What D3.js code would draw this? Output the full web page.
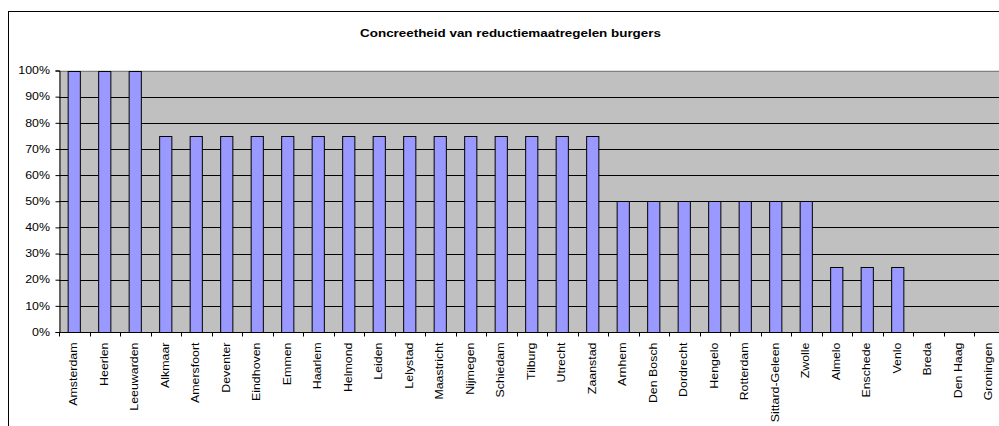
<!DOCTYPE html>
<html>
<head>
<meta charset="utf-8">
<script src="https://cdn.jsdelivr.net/npm/d3@7"></script>
<style>
  body { margin: 0; background: #fff; }
  text { font-family: Arial, "Liberation Sans", sans-serif; }
</style>
</head>
<body>
<div id="canvas"></div>
<script>
// data
const cities = ["Amsterdam", "Heerlen", "Leeuwarden", "Alkmaar", "Amersfoort", "Deventer", "Eindhoven",
    "Emmen", "Haarlem", "Helmond", "Leiden", "Lelystad", "Maastricht", "Nijmegen", "Schiedam", "Tilburg",
    "Utrecht", "Zaanstad", "Arnhem", "Den Bosch", "Dordrecht", "Hengelo", "Rotterdam", "Sittard-Geleen",
    "Zwolle", "Almelo", "Enschede", "Venlo", "Breda", "Den Haag", "Groningen"];
const scores = [1, 1, 1, 0.75, 0.75, 0.75, 0.75, 0.75, 0.75, 0.75, 0.75, 0.75, 0.75, 0.75, 0.75, 0.75,
    0.75, 0.75, 0.5, 0.5, 0.5, 0.5, 0.5, 0.5, 0.5, 0.25, 0.25, 0.25, 0, 0, 0];
const yTicks = [0, 0.1, 0.2, 0.3, 0.4, 0.5, 0.6, 0.7, 0.8, 0.9, 1];
const chartTitle = "Concreetheid van reductiemaatregelen burgers";

// svg canvas
const width = 999, height = 426;
const plot = {left: 59, top: 70.5, bottom: 332, right: 59 + 31 * 30.5};
const stretch = 1.24; // text in the original is rendered wide

const svg = d3.select("#canvas")
    .append("svg")
    .attr("width", width)
    .attr("height", height);

// chart border (cut off on right and bottom)
svg.append("rect")
    .attr("x", 8.5)
    .attr("y", 11.5)
    .attr("width", 1200)
    .attr("height", 600)
    .attr("fill", "white")
    .attr("stroke", "black")
    .attr("stroke-width", 1);

svg.append("text")
    .attr("transform", "translate(510.5,37) scale(1.22,1)")
    .attr("text-anchor", "middle")
    .attr("font-size", "11px")
    .attr("font-weight", "bold")
    .text(chartTitle);

// scales
const x = d3.scaleBand()
    .domain(cities)
    .range([plot.left, plot.right]);

const y = d3.scaleLinear()
    .domain([0, 1])
    .range([plot.bottom, plot.top]);

// plot area
svg.append("rect")
    .attr("x", plot.left)
    .attr("y", plot.top)
    .attr("width", plot.right - plot.left)
    .attr("height", plot.bottom - plot.top)
    .attr("fill", "#c0c0c0");

// gridlines
svg.append("g")
    .selectAll("line")
    .data(yTicks.filter(d => d > 0))
    .join("line")
    .attr("x1", plot.left)
    .attr("x2", plot.right)
    .attr("y1", d => Math.round(y(d)) + 0.5)
    .attr("y2", d => Math.round(y(d)) + 0.5)
    .attr("stroke", d => d === 1 ? "#808080" : "black")
    .attr("stroke-width", 1);

// bars
const barW = x.bandwidth() * 0.4;
svg.append("g")
    .selectAll("rect")
    .data(cities.map((c, i) => ({city: c, value: scores[i]})).filter(d => d.value > 0))
    .join("rect")
    .attr("x", d => x(d.city) + (x.bandwidth() - barW) / 2)
    .attr("y", d => Math.round(y(d.value)) + 0.5)
    .attr("width", barW)
    .attr("height", d => Math.round(y(0)) - Math.round(y(d.value)))
    .attr("fill", "#9999ff")
    .attr("stroke", "black")
    .attr("stroke-width", 1);

// y-axis
const yAxis = svg.append("g")
    .attr("transform", "translate(" + (plot.left + 0.5) + ",0)")
    .call(d3.axisLeft(y).tickValues(yTicks).tickFormat(d3.format(".0%")).tickSize(4).tickPadding(5));
yAxis.selectAll("text")
    .attr("x", 0)
    .attr("transform", "translate(-9.5,0) scale(" + stretch + ",1)")
    .attr("font-size", "10px")
    .attr("fill", "black")
    .attr("font-family", "Arial, 'Liberation Sans', sans-serif");
yAxis.selectAll("line").attr("stroke", "black");
yAxis.select(".domain").attr("stroke", "black");

// x-axis
const xAxisG = svg.append("g")
    .attr("transform", "translate(0," + (Math.round(plot.bottom) + 0.5) + ")");
xAxisG.append("line")
    .attr("x1", plot.left)
    .attr("x2", plot.right)
    .attr("stroke", "black");
xAxisG.selectAll(".tick")
    .data(d3.range(cities.length + 1))
    .join("line")
    .attr("class", "tick")
    .attr("x1", i => Math.round(plot.left + i * x.step()) + 0.5)
    .attr("x2", i => Math.round(plot.left + i * x.step()) + 0.5)
    .attr("y1", 0)
    .attr("y2", 4)
    .attr("stroke", "black");
xAxisG.selectAll(".label")
    .data(cities)
    .join("text")
    .attr("class", "label")
    .attr("transform", d => "translate(" + (x(d) + x.bandwidth() / 2 - 0.5) + ",10) rotate(-90) scale(" + stretch + ",1)")
    .attr("text-anchor", "end")
    .attr("dy", ".35em")
    .attr("font-size", "10px")
    .text(d => d);
</script>
</body>
</html>
